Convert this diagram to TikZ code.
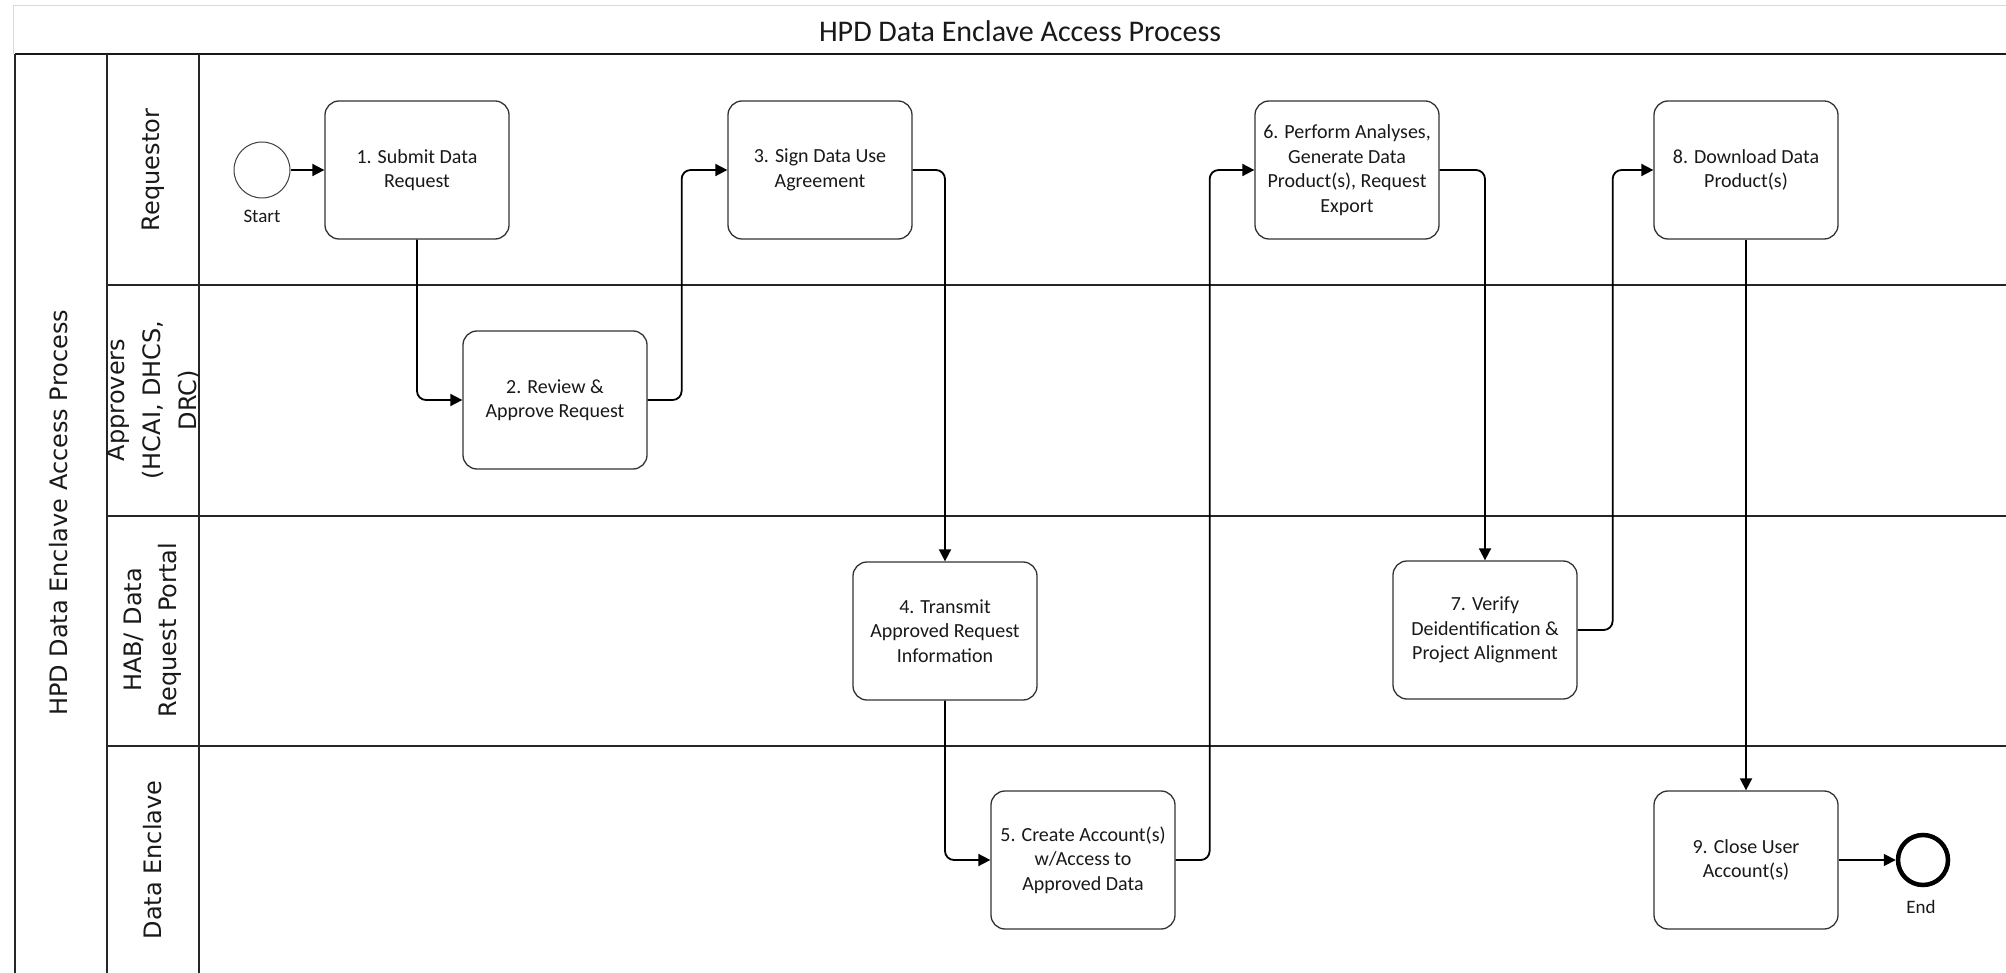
\documentclass[tikz,border=0pt]{standalone}
\usepackage{fontspec}
\setmainfont{Carlito}
\newfontfamily\lanefont{DejaVu Sans}
\usetikzlibrary{arrows.meta}
\begin{document}
\begin{tikzpicture}[x=1pt,y=-1pt,
  task/.style={draw=black!80, line width=1.3pt, rounded corners=14pt, minimum width=184pt, minimum height=138pt, align=center, font=\fontsize{20}{24.5}\selectfont, text=black!90, inner sep=2pt},
  flow/.style={draw=black, line width=1.8pt, rounded corners=9pt, -{Triangle[length=12pt,width=12pt]}},
  lane/.style={font=\lanefont\fontsize{24}{36}\selectfont, rotate=90, align=center, text=black!90},
  sep/.style={line width=2.4pt, draw=black!85},
  col/.style={line width=2pt, draw=black!85},
  small/.style={font=\fontsize{19}{22}\selectfont, text=black!90},
]
\useasboundingbox (0,0) rectangle (2006,973);
\fill[white] (0,0) rectangle (2006,973);
% title frame
\draw[black!15, line width=1pt] (13,54) -- (13,6) -- (2010,6);
\node[font=\fontsize{30}{36}\selectfont, text=black!90] (title) at (1020,31) {HPD Data Enclave Access Process};
\draw[line width=2.8pt, draw=black!90] (15,54) -- (2010,54);
\draw[col] (15,54) -- (15,980);
\draw[col] (107,54) -- (107,980);
\draw[col] (199,54) -- (199,980);
\draw[sep] (107,285) -- (2010,285);
\draw[sep] (107,516) -- (2010,516);
\draw[sep] (107,746) -- (2010,746);
% lane labels
\node[lane] (lproc) at (59,513) {HPD Data Enclave Access Process};
\node[lane] (lreq) at (153,170) {Requestor};
\node[lane] (lapp) at (153,400) {Approvers\\(HCAI, DHCS,\\DRC)};
\node[lane, font=\lanefont\fontsize{24}{35}\selectfont] (lhab) at (153,630) {HAB/ Data\\Request Portal};
\node[lane] (lde) at (153,860) {Data Enclave};
% tasks
\node[task] (t1) at (417,170) {1. Submit Data\\Request};
\node[task] (t2) at (555,400) {2. Review \&\\Approve Request};
\node[task] (t3) at (820,170) {3. Sign Data Use\\Agreement};
\node[task] (t4) at (945,631) {4. Transmit\\Approved Request\\Information};
\node[task] (t5) at (1083,860) {5. Create Account(s)\\w/Access to\\Approved Data};
\node[task] (t6) at (1347,170) {6. Perform Analyses,\\Generate Data\\Product(s), Request\\Export};
\node[task] (t7) at (1485,630) {7. Verify\\Deidentification \&\\Project Alignment};
\node[task] (t8) at (1746,170) {8. Download Data\\Product(s)};
\node[task] (t9) at (1746,860) {9. Close User\\Account(s)};
% events
\node[circle, draw=black!75, line width=1pt, minimum size=56pt, inner sep=0pt] (start) at (262,170) {};
\node[small] (startlbl) at (262,216) {Start};
\node[circle, draw=black, line width=4.5pt, minimum size=50pt, inner sep=0pt] (end) at (1923,860) {};
\node[small] (endlbl) at (1921,907) {End};
% flows
\draw[flow] (start) -- (t1);
\draw[flow] (t1.south) |- (t2.west);
\draw[flow] (t2.east) -- ++(34,0) |- (t3.west);
\draw[flow] (t3.east) -| (t4.north);
\draw[flow] (t4.south) |- (t5.west);
\draw[flow] (t5.east) -- ++(34,0) |- (t6.west);
\draw[flow] (t6.east) -| (t7.north);
\draw[flow] (t7.east) -- ++(35,0) |- (t8.west);
\draw[flow] (t8.south) -- (t9.north);
\draw[flow] (t9.east) -- (end);
\end{tikzpicture}
\end{document}
